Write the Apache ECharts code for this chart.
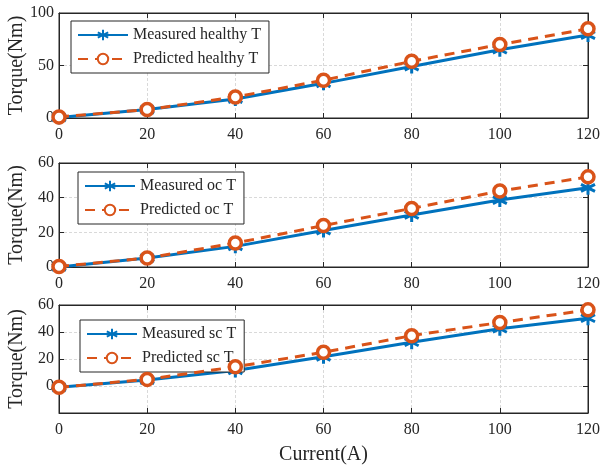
<!DOCTYPE html>
<html>
<head>
<meta charset="utf-8">
<script src="https://cdn.jsdelivr.net/npm/echarts@6/dist/echarts.min.js"></script>
<style>
html, body { margin: 0; padding: 0; background: #fff; }
#main { width: 600px; height: 466px; }
</style>
</head>
<body>
<div id="main"></div>
<script>
// 数据
var currents = [0, 20, 40, 60, 80, 100, 120];
var measHealthy = [0.5, 8, 18, 33, 49, 65, 79];
var predHealthy = [1, 8, 20, 36, 54, 70, 85];
var measOc = [0, 5.2, 11.9, 21, 30, 38.6, 45.7];
var predOc = [0.3, 5.2, 13.8, 23.9, 33.8, 43.8, 52];
var measSc = [-1, 4.4, 11.5, 21.6, 32.4, 42.4, 50.2];
var predSc = [-1, 4.9, 14.2, 25, 37.3, 47, 56.4];

var blue = '#0072BD';
var orange = '#D95319';
var font = 'Liberation Serif';
var txt = '#262626';
var star = 'path://M0,-10L0,10M-8.66,-5L8.66,5M-8.66,5L8.66,-5M0,0';

function pairs(ys) {
	return currents.map(function (x, i) { return [x, ys[i]]; });
}

var grids = [
	{ left: 59, right: 12, top: 13, height: 105 },
	{ left: 59, right: 12, top: 163, height: 104 },
	{ left: 59, right: 12, top: 305, height: 108 }
];
var yRanges = [[0, 100, 50], [0, 60, 20], [-20, 60, 20]];
var names = [
	['Measured healthy T', 'Predicted healthy T'],
	['Measured oc T', 'Predicted oc T'],
	['Measured sc T', 'Predicted sc T']
];
var data = [[measHealthy, predHealthy], [measOc, predOc], [measSc, predSc]];
var legendPos = [[71, 21], [78, 172], [80, 320]];
var gridLine = { show: true, lineStyle: { color: '#d9d9d9', type: [3, 2] } };

var xAxis = [], yAxis = [], series = [], legend = [];
grids.forEach(function (g, i) {
	g.show = true;
	g.borderColor = txt;
	g.borderWidth = 1;
	g.outerBoundsMode = 'none';
	g.containLabel = false;
	// 下方 x 轴
	xAxis.push({
		gridIndex: i, type: 'value', min: 0, max: 120, interval: 20,
		name: i === 2 ? 'Current(A)' : '',
		nameLocation: 'middle', nameGap: 32, nameMoveOverlap: false,
		nameTextStyle: { fontFamily: font, fontSize: 20, color: txt },
		axisLine: { show: true, onZero: false, lineStyle: { color: txt } },
		axisTick: { show: true, inside: true, length: 5, lineStyle: { color: txt } },
		axisLabel: { fontFamily: font, fontSize: 16, color: txt, margin: 9 },
		splitLine: gridLine
	});
	// 上方 x 轴（只显示刻度）
	xAxis.push({
		gridIndex: i, type: 'value', position: 'top', min: 0, max: 120, interval: 20,
		axisLine: { show: true, onZero: false, lineStyle: { color: txt } },
		axisTick: { show: true, inside: true, length: 5, lineStyle: { color: txt } },
		axisLabel: { show: false }, splitLine: { show: false }
	});
	var r = yRanges[i];
	yAxis.push({
		gridIndex: i, type: 'value', min: r[0], max: r[1], interval: r[2],
		name: 'Torque(Nm)', nameLocation: 'middle', nameGap: 32, nameMoveOverlap: false,
		nameTextStyle: { fontFamily: font, fontSize: 20, color: txt },
		axisLine: { show: true, onZero: false, lineStyle: { color: txt } },
		axisTick: { show: true, inside: true, length: 5, lineStyle: { color: txt } },
		axisLabel: {
			fontFamily: font, fontSize: 16, color: txt, margin: 5,
			formatter: function (v) { return v < 0 ? '' : v; }
		},
		splitLine: gridLine
	});
	yAxis.push({
		gridIndex: i, type: 'value', position: 'right', min: r[0], max: r[1], interval: r[2],
		axisLine: { show: true, onZero: false, lineStyle: { color: txt } },
		axisTick: { show: true, inside: true, length: 5, lineStyle: { color: txt } },
		axisLabel: { show: false }, splitLine: { show: false }
	});
	series.push({
		name: names[i][0], type: 'line', xAxisIndex: i * 2, yAxisIndex: i * 2,
		data: pairs(data[i][0]), symbol: star, symbolSize: 14,
		lineStyle: { color: blue, width: 3 },
		itemStyle: { color: blue, borderColor: blue, borderWidth: 3 },
		z: 3
	});
	series.push({
		name: names[i][1], type: 'line', xAxisIndex: i * 2, yAxisIndex: i * 2,
		data: pairs(data[i][1]), symbol: 'circle', symbolSize: 12,
		lineStyle: { color: orange, width: 3, type: [10, 7] },
		itemStyle: { color: '#fff', borderColor: orange, borderWidth: 3.5 },
		z: 4
	});
	legend.push({
		data: names[i], orient: 'vertical',
		left: legendPos[i][0], top: legendPos[i][1],
		padding: [6, 8, 6, 6], itemGap: 8, itemWidth: 50, itemHeight: 13,
		borderColor: txt, borderWidth: 1, backgroundColor: '#fff',
		textStyle: { fontFamily: font, fontSize: 16, color: txt }
	});
});

var chart = echarts.init(document.getElementById('main'), null, { renderer: 'canvas' });
chart.setOption({
	animation: false,
	grid: grids,
	xAxis: xAxis,
	yAxis: yAxis,
	legend: legend,
	series: series
});
</script>
</body>
</html>
